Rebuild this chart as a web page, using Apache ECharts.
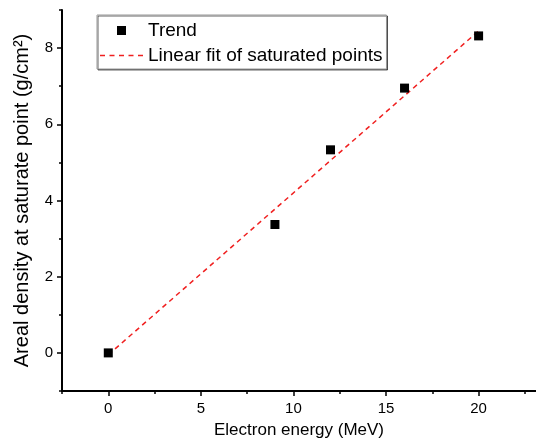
<!DOCTYPE html>
<html>
<head>
<meta charset="utf-8">
<script src="https://cdn.jsdelivr.net/npm/echarts@6/dist/echarts.min.js"></script>
<style>
  html, body { margin: 0; padding: 0; background: #fff; }
  #main { width: 536px; height: 444px; }
</style>
</head>
<body>
<div id="main"></div>
<script>
    // measured points
    var energy = [0, 9, 12, 16, 20];
    var density = [0, 3.37, 5.33, 6.95, 8.32];

    // linear fit end points
    var fitX = [0, 20];
    var fitY = [-0.05, 8.45];

    var xMajor = [0, 5, 10, 15, 20];
    var xMinor = [-2.5, 2.5, 7.5, 12.5, 17.5, 22.5];
    var yMajor = [0, 2, 4, 6, 8];
    var yMinor = [-1, 1, 3, 5, 7, 9];

    var font = 'Liberation Sans, Arial, sans-serif';

    // legend icons: filled square and a row of dashes
    var squareIcon = 'path://M0,0L10,0L10,10L0,10Z';
    var dashIcon = 'path://M0,0h5v1.5h-5Z M9.5,0h5v1.5h-5Z M19,0h5v1.5h-5Z M28.5,0h5v1.5h-5Z M38,0h5v1.5h-5Z';

    var myChart = echarts.init(document.getElementById('main'));

    function zip(a, b) {
        return a.map(function (v, i) { return [v, b[i]]; });
    }

    var axisLine = {show: true, onZero: false, lineStyle: {color: '#000', width: 2}};

    var option = {
        animation: false,
        grid: {left: 62, right: 0, top: 10, bottom: 53},
        legend: {
            left: 97,
            top: 15,
            orient: 'vertical',
            itemWidth: 43,
            itemHeight: 9,
            itemGap: 6,
            padding: [6, 4, 4, 3],
            backgroundColor: '#fff',
            borderColor: '#999',
            borderWidth: 1,
            shadowColor: 'rgba(0,0,0,0.6)',
            shadowOffsetX: 1,
            shadowOffsetY: 1,
            textStyle: {fontFamily: font, fontSize: 19, color: '#000'},
            data: [
                {name: 'Trend', icon: squareIcon},
                {name: 'Linear fit of saturated points', icon: dashIcon}
            ]
        },
        xAxis: [
            {
                type: 'value',
                min: -2.5,
                max: 23.1,
                name: 'Electron energy (MeV)',
                nameLocation: 'middle',
                nameGap: 31,
                nameTextStyle: {fontFamily: font, fontSize: 17, color: '#000'},
                splitLine: {show: false},
                axisLine: axisLine,
                axisTick: {customValues: xMajor, length: 5, lineStyle: {color: '#000', width: 1.5}},
                axisLabel: {customValues: xMajor, margin: 10, fontFamily: font, fontSize: 15, color: '#000'}
            },
            {
                type: 'value',
                position: 'bottom',
                min: -2.5,
                max: 23.1,
                splitLine: {show: false},
                axisLine: {show: false, onZero: false},
                axisTick: {customValues: xMinor, length: 3, lineStyle: {color: '#000', width: 1.5}},
                axisLabel: {show: false}
            }
        ],
        yAxis: [
            {
                type: 'value',
                min: -1,
                max: 9,
                name: 'Areal density at saturate point (g/cm²)',
                nameLocation: 'middle',
                nameGap: 30,
                nameTextStyle: {fontFamily: font, fontSize: 20, color: '#000'},
                splitLine: {show: false},
                axisLine: axisLine,
                axisTick: {customValues: yMajor, length: 5, lineStyle: {color: '#000', width: 1.5}},
                axisLabel: {customValues: yMajor, margin: 9, fontFamily: font, fontSize: 15, color: '#000'}
            },
            {
                type: 'value',
                position: 'left',
                min: -1,
                max: 9,
                splitLine: {show: false},
                axisLine: {show: false, onZero: false},
                axisTick: {customValues: yMinor, length: 3, lineStyle: {color: '#000', width: 1.5}},
                axisLabel: {show: false}
            }
        ],
        series: [
            {
                name: 'Linear fit of saturated points',
                type: 'line',
                symbol: 'none',
                lineStyle: {color: '#f02020', width: 1.5, type: [5, 4]},
                itemStyle: {color: '#f02020'},
                data: zip(fitX, fitY),
                z: 2
            },
            {
                name: 'Trend',
                type: 'scatter',
                symbol: 'rect',
                symbolSize: 9,
                itemStyle: {color: '#000', opacity: 1},
                data: zip(energy, density),
                z: 3
            }
        ]
    };
    myChart.setOption(option);
</script>
</body>
</html>
